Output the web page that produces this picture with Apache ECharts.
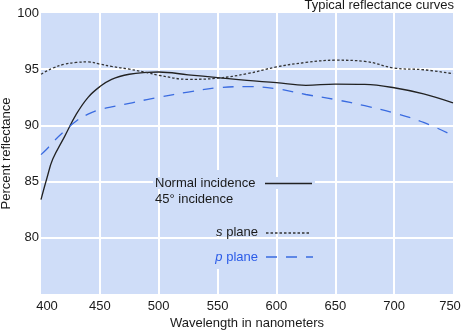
<!DOCTYPE html>
<html>
<head>
<meta charset="utf-8">
<script src="https://cdn.jsdelivr.net/npm/echarts@6/dist/echarts.min.js"></script>
<style>
html, body { margin: 0; padding: 0; background: #fff; }
#chart { width: 462px; height: 333px; }
</style>
</head>
<body>
<div id="chart"></div>
<script>
// wavelength (nm) samples shared by the three curves
var wavelengths = [400, 405, 410, 420, 430, 440, 450, 460, 475, 490, 500, 525, 550, 575, 600, 625, 650, 675, 700, 725, 750];
// normal incidence
var normalValues = [83.4, 85.3, 87.0, 89.0, 91.0, 92.5, 93.45, 94.1, 94.55, 94.72, 94.75, 94.5, 94.25, 94.0, 93.8, 93.56, 93.68, 93.65, 93.35, 92.8, 92.0];
// 45 deg incidence, s plane
var sPlaneValues = [94.55, 94.85, 95.1, 95.45, 95.6, 95.65, 95.45, 95.25, 95.0, 94.7, 94.46, 94.1, 94.2, 94.6, 95.2, 95.6, 95.8, 95.7, 95.1, 94.95, 94.6];
// 45 deg incidence, p plane
var pPlaneValues = [87.4, 87.9, 88.5, 89.5, 90.4, 91.0, 91.4, 91.65, 91.95, 92.3, 92.5, 92.97, 93.35, 93.45, 93.26, 92.75, 92.3, 91.75, 91.1, 90.27, 89.1];
var xTicks = [400, 450, 500, 550, 600, 650, 700, 750];
var yTicks = [80, 85, 90, 95, 100];

var FONT = '"Liberation Sans", Arial, sans-serif';
var PLOT_BG = '#cfddf8';

function pairs(vals) {
    return wavelengths.map(function (w, i) { return [w, vals[i]]; });
}

var chart = echarts.init(document.getElementById('chart'));
var option = {
    animation: false,
    textStyle: { fontFamily: FONT },
    title: {
        text: 'Typical reflectance curves',
        right: 8,
        top: -1,
        padding: 0,
        textStyle: { fontSize: 13, fontWeight: 'normal', color: '#1a1a1a', fontFamily: FONT }
    },
    grid: {
        left: 41,
        right: 9,
        top: 13,
        bottom: 39,
        containLabel: false,
        outerBoundsMode: 'none',
        show: true,
        backgroundColor: PLOT_BG,
        borderWidth: 0
    },
    xAxis: {
        type: 'value',
        min: 400,
        max: 750,
        interval: 50,
        name: 'Wavelength in nanometers',
        nameLocation: 'middle',
        nameGap: 23,
        nameMoveOverlap: false,
        nameTextStyle: { fontSize: 13, color: '#1a1a1a' },
        axisLine: { show: false },
        axisTick: { show: false },
        axisLabel: {
            fontSize: 13,
            color: '#1a1a1a',
            margin: 6,
            formatter: function (v) {
                if (xTicks.indexOf(v) < 0) return '';
                if (v === xTicks[0]) return '{first|' + v + '}';
                if (v === xTicks[xTicks.length - 1]) return '{last|' + v + '}';
                return '' + v;
            },
            rich: {
                first: { fontSize: 13, color: '#1a1a1a', padding: [0, 0, 0, 12] },
                last: { fontSize: 13, color: '#1a1a1a', padding: [0, 6, 0, 0] }
            }
        },
        splitLine: {
            show: true,
            showMinLine: false,
            showMaxLine: false,
            lineStyle: { color: '#ffffff', width: 2 }
        }
    },
    yAxis: {
        type: 'value',
        min: 75,
        max: 100,
        interval: 5,
        name: 'Percent reflectance',
        nameLocation: 'middle',
        nameGap: 28,
        nameMoveOverlap: false,
        nameTextStyle: { fontSize: 13, color: '#1a1a1a' },
        axisLine: { show: false },
        axisTick: { show: false },
        axisLabel: {
            fontSize: 13,
            color: '#1a1a1a',
            margin: 2,
            formatter: function (v) { return yTicks.indexOf(v) >= 0 ? v : ''; }
        },
        splitLine: {
            show: true,
            showMinLine: false,
            showMaxLine: false,
            lineStyle: { color: '#ffffff', width: 2 }
        }
    },
    series: [
        {
            name: 'Normal incidence',
            type: 'line',
            data: pairs(normalValues),
            smooth: 0.4,
            showSymbol: false,
            lineStyle: { color: '#222222', width: 1.3 }
        },
        {
            name: 's plane',
            type: 'line',
            data: pairs(sPlaneValues),
            smooth: 0.4,
            showSymbol: false,
            lineStyle: { color: '#333333', width: 1.3, type: [2.5, 2] }
        },
        {
            name: 'p plane',
            type: 'line',
            data: pairs(pPlaneValues),
            smooth: 0.4,
            showSymbol: false,
            lineStyle: { color: '#3a6be0', width: 1.3, type: [11, 9] }
        }
    ],
    // key drawn inside the plot; plain rects hide the grid lines behind it
    graphic: [
        { type: 'rect', z: 50, shape: { x: 153, y: 177, width: 162, height: 12 }, style: { fill: PLOT_BG } },
        { type: 'rect', z: 50, shape: { x: 208, y: 170, width: 20, height: 65 }, style: { fill: PLOT_BG } },
        { type: 'rect', z: 50, shape: { x: 208, y: 239, width: 20, height: 30 }, style: { fill: PLOT_BG } },
        { type: 'text', z: 60, x: 155, y: 183, style: { text: 'Normal incidence', font: '13px ' + FONT, fill: '#1a1a1a', textAlign: 'left', textVerticalAlign: 'middle' } },
        { type: 'text', z: 60, x: 155, y: 199, style: { text: '45\u00b0 incidence', font: '13px ' + FONT, fill: '#1a1a1a', textAlign: 'left', textVerticalAlign: 'middle' } },
        { type: 'text', z: 60, x: 258, y: 232, style: { text: '{i|s} plane', font: '13px ' + FONT, fill: '#1a1a1a', textAlign: 'right', textVerticalAlign: 'middle', rich: { i: { fontStyle: 'italic', fontSize: 13, fontFamily: FONT } } } },
        { type: 'text', z: 60, x: 258, y: 257, style: { text: '{i|p} plane', font: '13px ' + FONT, fill: '#2a5be8', textAlign: 'right', textVerticalAlign: 'middle', rich: { i: { fontStyle: 'italic', fontSize: 13, fontFamily: FONT, color: '#2a5be8' } } } },
        { type: 'line', z: 60, shape: { x1: 265, y1: 183.5, x2: 312, y2: 183.5 }, style: { stroke: '#222222', lineWidth: 1.3 } },
        { type: 'line', z: 60, shape: { x1: 266, y1: 233, x2: 310, y2: 233 }, style: { stroke: '#333333', lineWidth: 1.3, lineDash: [2.5, 2] } },
        { type: 'line', z: 60, shape: { x1: 266, y1: 257, x2: 313, y2: 257 }, style: { stroke: '#3a6be0', lineWidth: 1.3, lineDash: [11, 9] } }
    ]
};
chart.setOption(option);
</script>
</body>
</html>
